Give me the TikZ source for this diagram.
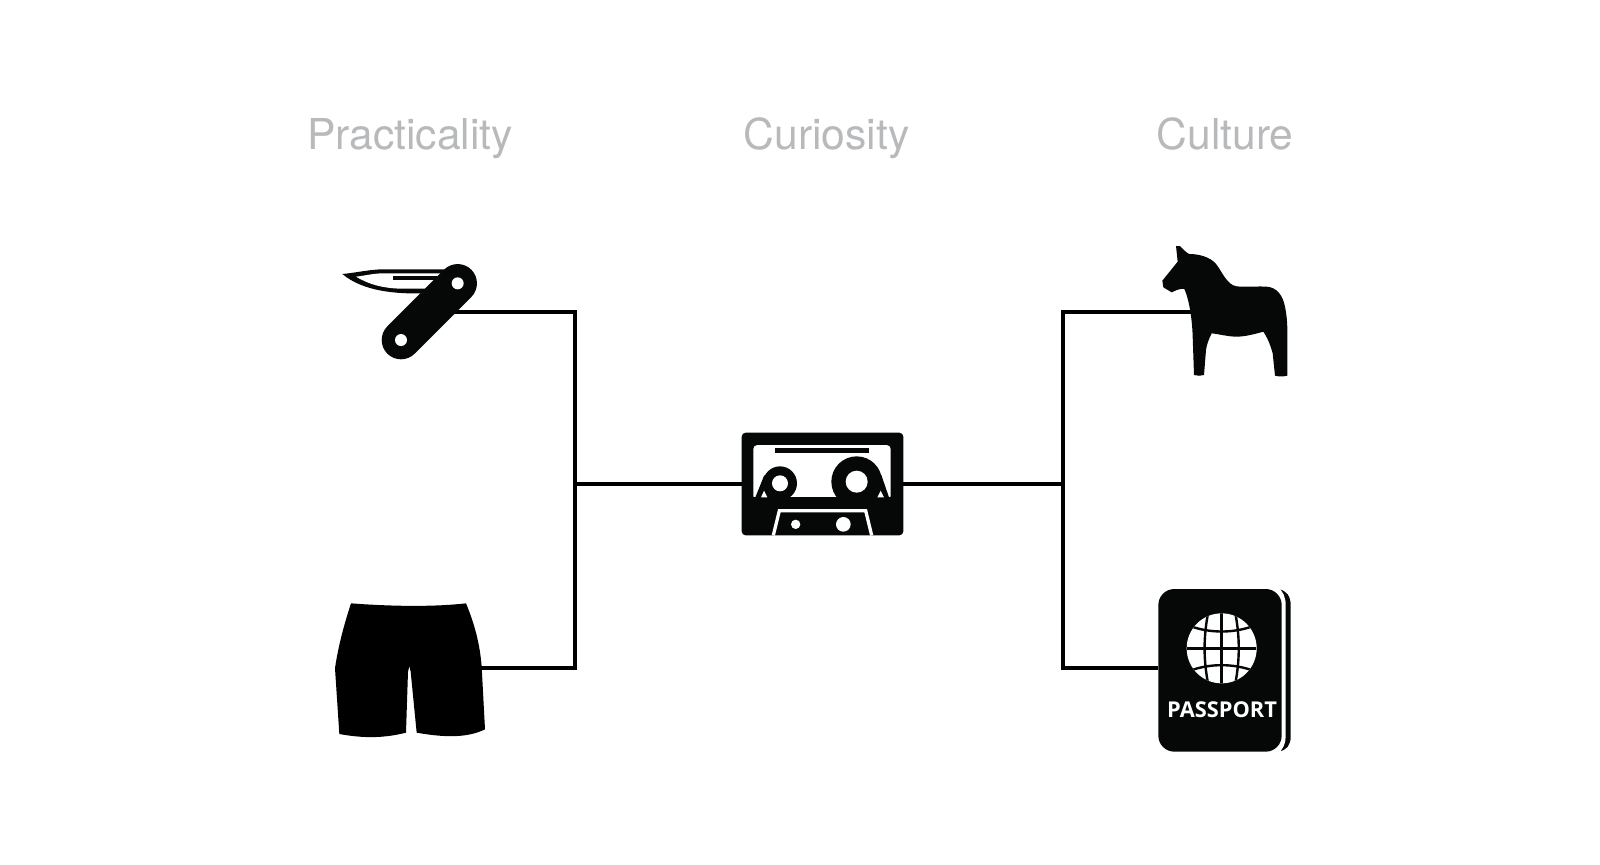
\documentclass[tikz,border=0pt]{standalone}
\usepackage{fontspec}
\setmainfont{TeX Gyre Heros}
\newfontfamily\passfont{Open Sans}
\tikzset{
  heading/.style={text=headgrey, font=\fontsize{21.3}{25}\selectfont, inner sep=0pt, anchor=base},
  wire/.style={line width=2pt, line join=miter},
  icon/.style={fill=iconblack, draw=none},
  gap/.style={fill=white, draw=none},
}
\definecolor{headgrey}{HTML}{B8B9BB}
\definecolor{iconblack}{HTML}{060808}
\begin{document}
\begin{tikzpicture}[x=0.5pt, y=-0.5pt]
\useasboundingbox (0,0) rectangle (1600,864);
% headings
\node[heading] (practicality) at (410,149) {Practicality};
\node[heading] (curiosity) at (826.5,149) {Curiosity};
\node[heading] (culture) at (1225,149) {Culture};
% ends of the connectors
\coordinate (knife) at (436,311.5);
\coordinate (shorts) at (481,668);
\coordinate (cassetteL) at (742,484);
\coordinate (cassetteR) at (903,484);
\coordinate (horse) at (1201,311.5);
\coordinate (passport) at (1158,668);
\coordinate (joinL) at (575,484);
\coordinate (joinR) at (1062.5,484);
\draw[wire] (knife) -| (joinL) |- (shorts);
\draw[wire] (joinL) -- (cassetteL);
\draw[wire] (cassetteR) -- (joinR);
\draw[wire] (horse) -| (joinR) |- (passport);
% knife
\begin{scope}[shift={(320,230)}, scale=1/3]
\fill[icon] (67,132) .. controls (110,128) and (150,118) .. (190,118) -- (385,118) -- (385,190) -- (310,190) .. controls (230,192) and (130,185) .. cycle;
\fill[gap] (108,140) .. controls (135,137) and (160,130) .. (190,130) -- (365,130) -- (345,176) -- (240,176) .. controls (190,174) and (150,165) .. cycle;
\fill[icon] (218,138) rectangle (350,150);
\draw[iconblack, line width=19.3pt, line cap=round] (413,160) -- (243,330);
\fill[gap] (413,160) circle (18);
\fill[gap] (243,330) circle (18);
\end{scope}
% shorts
\begin{scope}[shift={(320,590)}, scale=1/3]
\fill[black] (93,40) .. controls (200,48) and (330,52) .. (438,40) .. controls (465,105) and (480,165) .. (485,230) -- (495,418) .. controls (440,445) and (370,442) .. (290,428) -- (272,245) -- (268,228) -- (264,245) -- (258,428) .. controls (190,445) and (130,445) .. (58,432) -- (45,235) .. controls (55,165) and (75,95) .. cycle;
\end{scope}
% cassette
\begin{scope}[shift={(720,420)}, scale=1/3]
\fill[icon, rounded corners=2pt] (65,38) rectangle (550,346);
\fill[gap, rounded corners=2pt] (100,75) rectangle (512,240);
\fill[icon] (165,85) rectangle (447,100);
\fill[icon] (180,190) circle (51);
\fill[icon] (410,185) circle (76);
\fill[icon] (133,165) -- (106,232) -- (160,232) -- cycle;
\fill[icon] (484,165) -- (507,232) -- (440,232) -- cycle;
\fill[icon] (65,232) rectangle (550,268);
\fill[gap] (123,232) -- (132,212) -- (142,232) -- cycle;
\fill[gap] (472,232) -- (482,212) -- (492,232) -- cycle;
\fill[gap] (180,190) circle (24);
\fill[gap] (410,185) circle (33);
\draw[white, line width=1.65pt] (160,346) -- (178,272) -- (437,272) -- (455,346);
\fill[gap] (227,313) circle (14);
\fill[gap] (370,313) circle (22);
\end{scope}
% horse
\begin{scope}[shift={(1130,230)}, scale=1/3]
\fill[icon] (138,48) -- (150,48) .. controls (160,58) and (168,68) .. (178,72) .. controls (205,72) and (240,80) .. (258,102) .. controls (275,122) and (290,165) .. (320,169) .. controls (350,172) and (385,168) .. (410,170) .. controls (440,172) and (458,195) .. (465,230) .. controls (470,255) and (472,280) .. (472,300) -- (472,437) .. controls (460,440) and (447,440) .. (435,437) -- (428,370) .. controls (420,340) and (410,320) .. (400,305) .. controls (375,312) and (345,320) .. (320,320) .. controls (295,320) and (265,312) .. (245,310) .. controls (235,330) and (230,345) .. (228,360) -- (222,435) .. controls (212,438) and (202,438) .. (192,435) -- (188,320) .. controls (187,280) and (180,215) .. (163,177) .. controls (150,175) and (140,180) .. (125,187) -- (100,172) -- (97,152) -- (143,95) -- cycle;
\end{scope}
% passport
\begin{scope}[shift={(1140,580)}, scale=1/3]
\fill[icon] (415,28) .. controls (440,30) and (452,50) .. (452,75) -- (452,470) .. controls (452,495) and (440,512) .. (415,514) -- (410,514) -- (410,28) -- cycle;
\fill[gap] (300,20) -- (412,20) .. controls (428,32) and (437,50) .. (437,75) -- (437,470) .. controls (437,492) and (428,510) .. (412,522) -- (300,522) -- cycle;
\fill[icon, rounded corners=8pt] (55,27) rectangle (425,515);
\fill[gap] (245,205) circle (105);
\begin{scope}
\clip (245,205) circle (105);
\draw[iconblack, line width=1.2pt] (245,95) -- (245,315);
\draw[iconblack, line width=1.2pt] (205,95) .. controls (190,170) and (190,240) .. (205,315);
\draw[iconblack, line width=1.2pt] (285,95) .. controls (300,170) and (300,240) .. (285,315);
\draw[iconblack, line width=1.2pt] (140,205) -- (350,205);
\draw[iconblack, line width=1.2pt] (150,138) .. controls (210,160) and (280,160) .. (340,138);
\draw[iconblack, line width=1.2pt] (150,272) .. controls (210,250) and (280,250) .. (340,272);
\end{scope}
\node[text=white, inner sep=0pt, font=\passfont\bfseries\fontsize{10.9}{12}\selectfont] (passlabel) at (246,389) {PASSPORT};
\end{scope}
\end{tikzpicture}
\end{document}
